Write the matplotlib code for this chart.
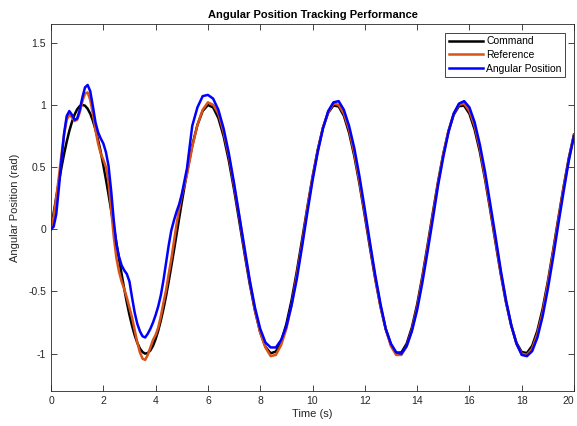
import matplotlib.pyplot as plt

plt.rcParams['font.family'] = ['Liberation Sans', 'DejaVu Sans']

# sample times (s): fine steps through the start-up transient, coarser afterwards
t = [0.0, 0.1, 0.2, 0.3, 0.4, 0.5, 0.6, 0.7, 0.8, 0.9,
     1.0, 1.1, 1.2, 1.3, 1.4, 1.5, 1.6, 1.7, 1.8, 1.9,
     2.0, 2.1, 2.2, 2.3, 2.4, 2.5, 2.6, 2.7, 2.8, 2.9,
     3.0, 3.1, 3.2, 3.3, 3.4, 3.5, 3.6, 3.7, 3.8, 3.9,
     4.0, 4.1, 4.2, 4.3, 4.4, 4.5, 4.6, 4.7, 4.8, 4.9, 5.0,
     5.2, 5.4, 5.6, 5.8, 6.0, 6.2, 6.4, 6.6, 6.8, 7.0,
     7.2, 7.4, 7.6, 7.8, 8.0, 8.2, 8.4, 8.6, 8.8, 9.0,
     9.2, 9.4, 9.6, 9.8, 10.0, 10.2, 10.4, 10.6, 10.8, 11.0,
     11.2, 11.4, 11.6, 11.8, 12.0, 12.2, 12.4, 12.6, 12.8, 13.0,
     13.2, 13.4, 13.6, 13.8, 14.0, 14.2, 14.4, 14.6, 14.8, 15.0,
     15.2, 15.4, 15.6, 15.8, 16.0, 16.2, 16.4, 16.6, 16.8, 17.0,
     17.2, 17.4, 17.6, 17.8, 18.0, 18.2, 18.4, 18.6, 18.8, 19.0,
     19.2, 19.4, 19.6, 19.8, 20.0]

command = [0.000, 0.130, 0.257, 0.380, 0.497, 0.605, 0.703, 0.790, 0.862, 0.921,
           0.964, 0.990, 1.000, 0.993, 0.969, 0.929, 0.873, 0.802, 0.718, 0.623,
           0.516, 0.401, 0.279, 0.151, 0.022, -0.108, -0.236, -0.361, -0.479, -0.589,
           -0.688, -0.776, -0.852, -0.913, -0.959, -0.987, -1.000, -0.995, -0.974, -0.937,
           -0.883, -0.815, -0.733, -0.640, -0.536, -0.420, -0.298, -0.172, -0.043, 0.087, 0.215,
           0.459, 0.672, 0.839, 0.951, 0.999, 0.979, 0.894, 0.748, 0.552, 0.319,
           0.065, -0.194, -0.440, -0.655, -0.828, -0.945, -0.997, -0.983, -0.903, -0.762,
           -0.570, -0.339, -0.086, 0.173, 0.420, 0.639, 0.816, 0.937, 0.995, 0.987,
           0.912, 0.775, 0.587, 0.360, 0.108, -0.152, -0.400, -0.622, -0.803, -0.929,
           -0.993, -0.990, -0.920, -0.790, -0.606, -0.380, -0.129, 0.130, 0.381, 0.605,
           0.790, 0.921, 0.990, 0.993, 0.929, 0.802, 0.622, 0.400, 0.151, -0.108,
           -0.361, -0.589, -0.776, -0.913, -0.987, -0.995, -0.937, -0.815, -0.640, -0.420,
           -0.172, 0.087, 0.340, 0.571, 0.762]

reference = [0.00, 0.10, 0.25, 0.42, 0.60, 0.76, 0.88, 0.92, 0.90, 0.87,
             0.88, 0.94, 1.03, 1.09, 1.10, 1.04, 0.93, 0.80, 0.69, 0.61,
             0.56, 0.50, 0.38, 0.16, -0.06, -0.23, -0.34, -0.42, -0.48, -0.55,
             -0.63, -0.71, -0.81, -0.91, -0.99, -1.04, -1.05, -1.01, -0.95, -0.89,
             -0.85, -0.79, -0.70, -0.59, -0.49, -0.36, -0.24, -0.10, 0.04, 0.16, 0.27,
             0.44, 0.66, 0.84, 0.96, 1.02, 1.00, 0.93, 0.78, 0.59, 0.35,
             0.10, -0.17, -0.42, -0.65, -0.83, -0.95, -1.02, -1.01, -0.93, -0.80,
             -0.61, -0.37, -0.12, 0.16, 0.41, 0.63, 0.82, 0.94, 1.01, 1.00,
             0.93, 0.80, 0.61, 0.38, 0.13, -0.13, -0.39, -0.62, -0.80, -0.94,
             -1.01, -1.01, -0.94, -0.81, -0.63, -0.40, -0.15, 0.11, 0.37, 0.60,
             0.79, 0.93, 1.00, 1.01, 0.95, 0.83, 0.65, 0.42, 0.17, -0.09,
             -0.35, -0.58, -0.77, -0.92, -1.00, -1.01, -0.96, -0.84, -0.67, -0.44,
             -0.19, 0.07, 0.33, 0.56, 0.76]

angular_position = [0.00, 0.02, 0.12, 0.33, 0.56, 0.77, 0.91, 0.95, 0.92, 0.88,
                    0.89, 0.96, 1.06, 1.14, 1.16, 1.11, 0.99, 0.86, 0.78, 0.73,
                    0.69, 0.62, 0.51, 0.31, 0.07, -0.12, -0.22, -0.29, -0.33, -0.36,
                    -0.42, -0.55, -0.67, -0.76, -0.82, -0.86, -0.87, -0.84, -0.80, -0.75,
                    -0.69, -0.62, -0.53, -0.41, -0.27, -0.13, -0.01, 0.07, 0.14, 0.20, 0.28,
                    0.49, 0.83, 0.98, 1.07, 1.08, 1.05, 0.96, 0.81, 0.61, 0.37,
                    0.11, -0.15, -0.41, -0.63, -0.80, -0.91, -0.95, -0.95, -0.89, -0.78,
                    -0.61, -0.40, -0.14, 0.13, 0.39, 0.62, 0.81, 0.95, 1.02, 1.03,
                    0.96, 0.83, 0.65, 0.42, 0.16, -0.11, -0.37, -0.60, -0.80, -0.92,
                    -0.99, -1.00, -0.94, -0.82, -0.65, -0.43, -0.18, 0.08, 0.35, 0.58,
                    0.78, 0.93, 1.01, 1.03, 0.98, 0.86, 0.68, 0.46, 0.20, -0.06,
                    -0.33, -0.57, -0.77, -0.92, -1.01, -1.02, -0.98, -0.87, -0.70, -0.48,
                    -0.23, 0.04, 0.30, 0.55, 0.75]

fig = plt.figure(figsize=(5.77, 4.26), dpi=100)
ax = fig.add_axes([0.0884, 0.0822, 0.9064, 0.8615])

ax.plot(t, command, color='black', lw=1.8, label='Command')
ax.plot(t, reference, color='#D95319', lw=1.8, label='Reference')
ax.plot(t, angular_position, color='#0000FF', lw=1.8, label='Angular Position')

ax.set_xlim(0, 20)
ax.set_ylim(-1.3, 1.65)
ax.set_xticks(range(0, 21, 2))
ax.set_yticks([-1, -0.5, 0, 0.5, 1, 1.5])
ax.set_yticklabels(['-1', '-0.5', '0', '0.5', '1', '1.5'])
ax.tick_params(direction='in', top=True, right=True, labelsize=7.5,
               colors='#262626', length=4, width=0.6)
for s in ax.spines.values():
    s.set_color('#262626')
    s.set_linewidth(0.6)

# keep the last x label inside the figure edge
fig.canvas.draw()
ax.get_xticklabels()[-1].set_horizontalalignment('right')

ax.set_xlabel('Time (s)', fontsize=8, color='#262626', labelpad=2)
ax.set_ylabel('Angular Position (rad)', fontsize=8, color='#262626', labelpad=6)
ax.set_title('Angular Position Tracking Performance', fontsize=8,
             fontweight='bold', pad=4)

leg = ax.legend(loc='upper right', fontsize=7.5, fancybox=False,
                framealpha=1, edgecolor='#262626', handlelength=3.3,
                handletextpad=0.3, labelspacing=0.35, borderpad=0.3,
                borderaxespad=0.9)
leg.get_frame().set_linewidth(0.6)

fig.savefig('out.png', dpi=100)
